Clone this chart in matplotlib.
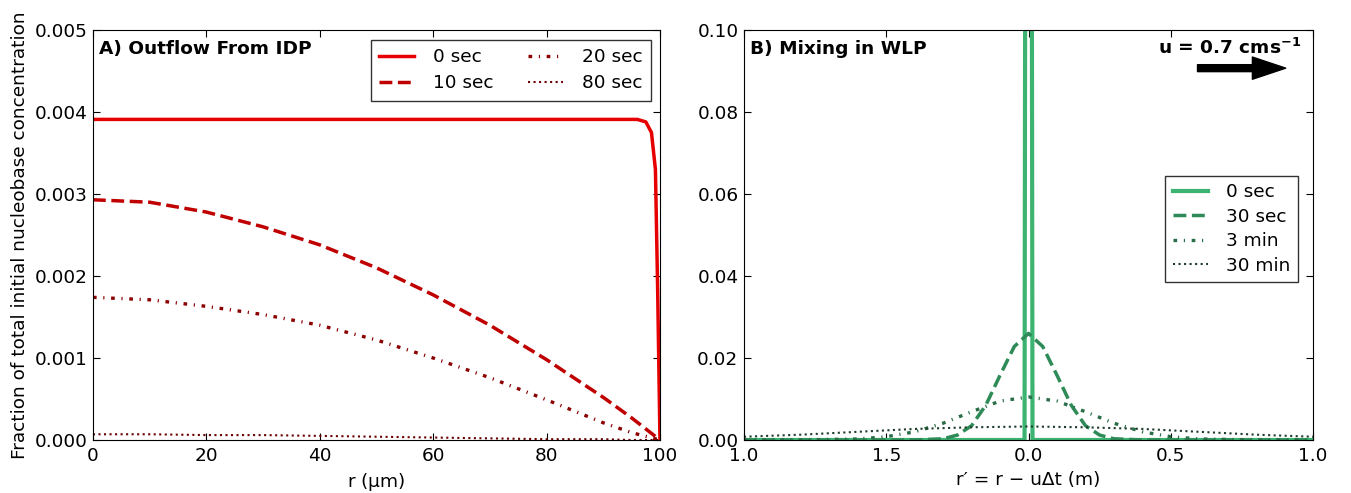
import numpy as np
import matplotlib
matplotlib.use('Agg')
import matplotlib.pyplot as plt

# ---- data ----
# A) outflow from IDP, r in micrometres
r_grid = [0, 10, 20, 30, 40, 50, 60, 70, 80, 90, 95, 100]
c_10s = [0.00293, 0.00290, 0.00278, 0.00260, 0.00238, 0.00210, 0.00177, 0.00140, 0.00098, 0.00052, 0.00027, 0.0]
c_20s = [0.00174, 0.00171, 0.00163, 0.00153, 0.00140, 0.00122, 0.00100, 0.00076, 0.00049, 0.00021, 0.00009, 0.0]
c_80s = [0.00007, 0.00007, 0.00006, 0.00006, 0.00005, 0.00004, 0.00003, 0.00002, 0.00001, 0.00001, 0.0, 0.0]
r_0s = [0, 20, 40, 60, 80, 96, 97.5, 98.5, 99.2, 99.6, 100]
c_0s = [0.00391, 0.00391, 0.00391, 0.00391, 0.00391, 0.00391, 0.00388, 0.00375, 0.0033, 0.0018, 0.0]

# B) mixing in WLP, r' in metres
x_0s = [-1.0, -0.014, -0.01, 0.01, 0.014, 1.0]
m_0s = [0.0, 0.0, 0.2, 0.2, 0.0, 0.0]
x_30s = [-1.0, -0.4, -0.3, -0.25, -0.2, -0.15, -0.1, -0.05, 0.0, 0.05, 0.1, 0.15, 0.2, 0.25, 0.3, 0.4, 1.0]
m_30s = [0.0, 0.0, 0.0003, 0.0012, 0.0035, 0.0085, 0.0158, 0.0228, 0.0260, 0.0228, 0.0158, 0.0085, 0.0035, 0.0012, 0.0003, 0.0, 0.0]
x_3m = [-1.0, -0.8, -0.6, -0.5, -0.4, -0.3, -0.2, -0.1, 0.0, 0.1, 0.2, 0.3, 0.4, 0.5, 0.6, 0.8, 1.0]
m_3m = [0.0, 0.00002, 0.00025, 0.0008, 0.0020, 0.0041, 0.0069, 0.0095, 0.0105, 0.0095, 0.0069, 0.0041, 0.0020, 0.0008, 0.00025, 0.00002, 0.0]
x_30m = [-1.0, -0.8, -0.6, -0.4, -0.2, 0.0, 0.2, 0.4, 0.6, 0.8, 1.0]
m_30m = [0.0008, 0.0013, 0.0020, 0.0027, 0.0031, 0.0033, 0.0031, 0.0027, 0.0020, 0.0013, 0.0008]

right_ticks = [-1.0, -0.5, 0.0, 0.5, 1.0]
right_ticklabels = ['1.0', '1.5', '0.0', '0.5', '1.0']

fs = 13.3
plt.rcParams['font.family'] = 'DejaVu Sans'
plt.rcParams['font.size'] = fs
plt.rcParams['xtick.direction'] = 'in'
plt.rcParams['ytick.direction'] = 'in'
plt.rcParams['xtick.top'] = True
plt.rcParams['ytick.right'] = True
plt.rcParams['xtick.major.size'] = 5
plt.rcParams['ytick.major.size'] = 5
plt.rcParams['xtick.major.pad'] = 5
plt.rcParams['ytick.major.pad'] = 4
plt.rcParams['mathtext.default'] = 'regular'

fig = plt.figure(figsize=(13.51, 4.93), dpi=100)
ax1 = fig.add_axes([0.0688, 0.1075, 0.4197, 0.8316])
ax2 = fig.add_axes([0.5507, 0.1075, 0.4212, 0.8316])

dashdot = [1.1, 2.0, 0.35, 2.0]

# ---- panel A ----
ax1.plot(r_0s, c_0s, '-', color='#e60000', lw=2.5, label='0 sec')
ax1.plot(r_grid, c_10s, '--', color='#c00000', lw=2.5, label='10 sec')
ax1.plot(r_grid, c_20s, '-.', color='#8b0000', lw=2.4, label='20 sec', dashes=dashdot)
ax1.plot(r_grid, c_80s, ':', color='#6b0000', lw=1.5, label='80 sec')
ax1.set_xlim(0, 100)
ax1.set_ylim(0, 0.005)
ax1.set_xticks([0, 20, 40, 60, 80, 100])
ax1.set_yticks(np.arange(0, 0.0051, 0.001))
ax1.yaxis.set_major_formatter(matplotlib.ticker.FormatStrFormatter('%.3f'))
ax1.set_xlabel(r'r ($\mu$m)')
ax1.set_ylabel('Fraction of total initial nucleobase concentration')
ax1.text(0.01, 0.975, 'A) Outflow From IDP', transform=ax1.transAxes,
         fontweight='bold', va='top', ha='left')
leg1 = ax1.legend(loc='upper right', ncol=2, fontsize=fs, fancybox=False,
                  columnspacing=1.9, handlelength=1.9, handletextpad=1.0,
                  borderpad=0.45, labelspacing=0.45, borderaxespad=0,
                  bbox_to_anchor=(0.984, 0.976))
leg1.get_frame().set_edgecolor('black')

# ---- panel B ----
ax2.plot(x_0s, m_0s, '-', color='#3cb371', lw=3, label='0 sec')
ax2.plot(x_30s, m_30s, '--', color='#2e8b57', lw=2.5, label='30 sec')
ax2.plot(x_3m, m_3m, '-.', color='#2a6e48', lw=2.4, label='3 min', dashes=dashdot)
ax2.plot(x_30m, m_30m, ':', color='#1c3b2a', lw=1.5, label='30 min')
ax2.set_xlim(-1, 1)
ax2.set_ylim(0, 0.1)
ax2.set_xticks(right_ticks)
ax2.set_xticklabels(right_ticklabels)
ax2.set_yticks(np.arange(0, 0.101, 0.02))
ax2.yaxis.set_major_formatter(matplotlib.ticker.FormatStrFormatter('%.2f'))
ax2.set_xlabel('r\u2032 = r \u2212 u\u0394t (m)')
ax2.text(0.01, 0.975, 'B) Mixing in WLP', transform=ax2.transAxes,
         fontweight='bold', va='top', ha='left')
ax2.text(0.98, 0.98, r'u = 0.7 cms$^{-1}$', transform=ax2.transAxes,
         fontweight='bold', va='top', ha='right')
ax2.annotate('', xy=(0.952, 0.907), xytext=(0.797, 0.907), xycoords='axes fraction',
             arrowprops=dict(facecolor='black', edgecolor='black', width=5,
                             headwidth=16, headlength=24))
leg2 = ax2.legend(loc='center right', fontsize=fs, fancybox=False,
                  bbox_to_anchor=(0.99, 0.515), handlelength=1.9, handletextpad=1.0,
                  borderpad=0.4, labelspacing=0.35)
leg2.get_frame().set_edgecolor('black')

fig.savefig('out.png', dpi=100, facecolor='white')
